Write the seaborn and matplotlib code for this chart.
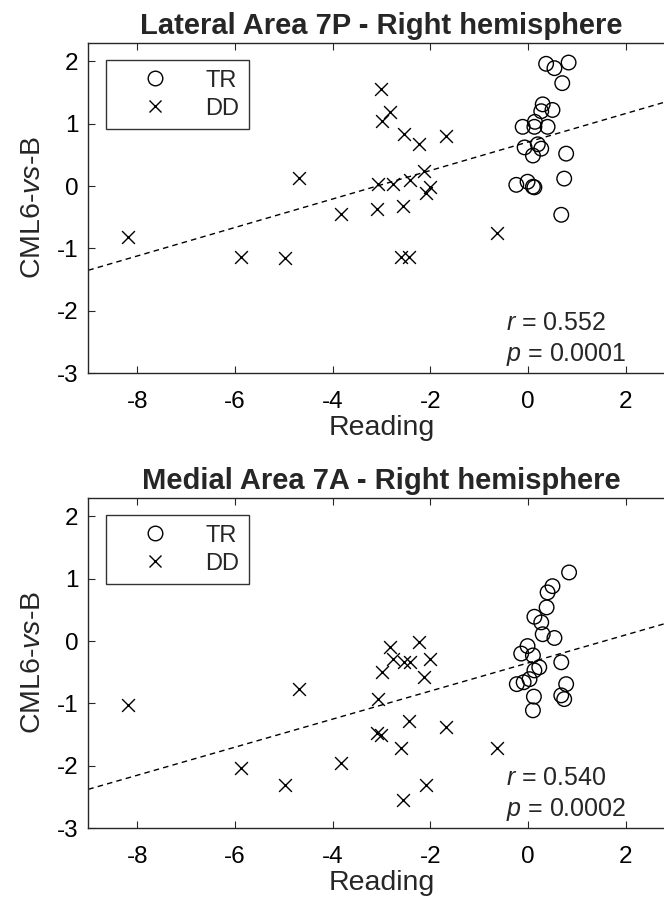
import numpy as np
import pandas as pd
import matplotlib
matplotlib.use("Agg")
import matplotlib.pyplot as plt
import seaborn as sns
from matplotlib.lines import Line2D

# reading scores of the DD children (shared by both panels)
reading_dd = [-8.19, -5.88, -4.98, -4.69, -3.83, -3.09, -3.07, -3.01, -2.99, -2.83, -2.76,
              -2.60, -2.56, -2.54, -2.44, -2.41, -2.23, -2.12, -2.09, -2.01, -1.67, -0.64]

# Lateral Area 7P
lat_dd = [-0.82, -1.14, -1.16, 0.13, -0.44, -0.37, 0.04, 1.55, 1.04, 1.19, 0.04,
          -1.13, -0.32, 0.84, -1.14, 0.10, 0.67, 0.24, -0.11, -0.01, 0.80, -0.75]
lat_tr_x = [0.37, 0.54, 0.83, 0.70, 0.30, 0.50, 0.27, 0.14, -0.11, 0.13, 0.40,
            -0.07, 0.20, 0.27, 0.10, 0.78, -0.24, -0.01, 0.10, 0.13, 0.74, 0.68]
lat_tr_y = [1.96, 1.89, 1.98, 1.65, 1.31, 1.22, 1.20, 1.03, 0.95, 0.95, 0.95,
            0.62, 0.67, 0.60, 0.49, 0.52, 0.02, 0.07, -0.01, -0.02, 0.12, -0.46]

# Medial Area 7A
med_dd = [-1.02, -2.03, -2.31, -0.76, -1.96, -1.48, -0.93, -1.50, -0.50, -0.10, -0.29,
          -1.71, -2.54, -0.34, -1.28, -0.34, -0.02, -0.58, -2.31, -0.29, -1.37, -1.71]
med_tr_x = [0.84, 0.50, 0.40, 0.38, 0.13, 0.27, 0.30, 0.54, -0.01, -0.14, 0.10,
            0.68, 0.23, 0.13, 0.03, -0.23, -0.09, 0.78, 0.12, 0.68, 0.74, 0.10]
med_tr_y = [1.10, 0.88, 0.78, 0.54, 0.39, 0.30, 0.11, 0.05, -0.08, -0.20, -0.23,
            -0.34, -0.42, -0.47, -0.61, -0.69, -0.66, -0.69, -0.89, -0.87, -0.93, -1.11]

panels = [
    ("Lateral Area 7P - Right hemisphere", lat_tr_x, lat_tr_y, lat_dd, "0.552", "0.0001"),
    ("Medial Area 7A - Right hemisphere", med_tr_x, med_tr_y, med_dd, "0.540", "0.0002"),
]

sns.set_theme(style="ticks")
plt.rcParams['font.family'] = ['Liberation Sans', 'DejaVu Sans']
plt.rcParams['mathtext.fontset'] = 'custom'
plt.rcParams['mathtext.rm'] = 'Liberation Sans'
plt.rcParams['mathtext.it'] = 'Liberation Sans:italic'

axcol = '#262626'
fig = plt.figure(figsize=(6.64, 9.06), dpi=100)
positions = [[0.133, 0.588, 0.883, 0.365], [0.133, 0.0858, 0.883, 0.365]]

for pos, (title, trx, tr_y, dd_y, r, p) in zip(positions, panels):
    ax = fig.add_axes(pos)
    df = pd.DataFrame({
        'Reading': list(trx) + reading_dd,
        'CML6': list(tr_y) + dd_y,
        'Group': ['TR'] * len(trx) + ['DD'] * len(reading_dd),
    })
    ax.set_xlim(-9, 3)
    ax.set_ylim(-3, 2.3)

    sns.regplot(data=df, x='Reading', y='CML6', scatter=False, ci=None, truncate=False,
                color='black', line_kws=dict(linestyle=(0, (4, 3)), linewidth=1.0), ax=ax)
    sns.scatterplot(data=df[df.Group == 'TR'], x='Reading', y='CML6', marker='o', s=110,
                    facecolor='none', edgecolor='black', linewidth=1.0, ax=ax)
    sns.scatterplot(data=df[df.Group == 'DD'], x='Reading', y='CML6', marker='x', s=85,
                    color='black', linewidth=1.0, ax=ax)
    ax.set_xlim(-9, 3)
    ax.set_ylim(-3, 2.3)

    ax.set_xticks([-8, -6, -4, -2, 0, 2])
    ax.set_yticks([-3, -2, -1, 0, 1, 2])
    ax.set_xticklabels(['-8', '-6', '-4', '-2', '0', '2'])
    ax.set_yticklabels(['-3', '-2', '-1', '0', '1', '2'])
    ax.tick_params(direction='in', length=5, width=0.8, color=axcol, labelsize=17.5,
                   labelcolor='black', top=True, right=True)
    ax.tick_params(axis='x', pad=13)
    ax.tick_params(axis='y', pad=7)
    for s in ax.spines.values():
        s.set_color(axcol)
        s.set_linewidth(1.0)

    ax.set_xlabel('Reading', fontsize=20.5, labelpad=1)
    ax.set_ylabel('CML6-$\\mathit{vs}$-B', fontsize=20.5, labelpad=8)
    ax.set_title(title, fontsize=21, fontweight='bold', pad=6)

    ax.text(-0.46, -2.31, '$\\mathit{r}$ = ' + r, fontsize=18, va='baseline')
    ax.text(-0.46, -2.80, '$\\mathit{p}$ = ' + p, fontsize=18, va='baseline')

    handles = [
        Line2D([], [], marker='o', linestyle='none', markersize=10.5, markerfacecolor='none',
               markeredgecolor='black', markeredgewidth=1.0),
        Line2D([], [], marker='x', linestyle='none', markersize=9, color='black',
               markeredgewidth=1.0),
    ]
    leg = ax.legend(handles, ['TR', 'DD'], loc='upper left', fontsize=17, frameon=True,
                    fancybox=False, edgecolor='black', borderaxespad=0.75, handlelength=3.36,
                    handletextpad=0.44, borderpad=0.4, labelspacing=0.25)
    leg.get_frame().set_linewidth(1.0)

fig.savefig('out.png', dpi=100)
